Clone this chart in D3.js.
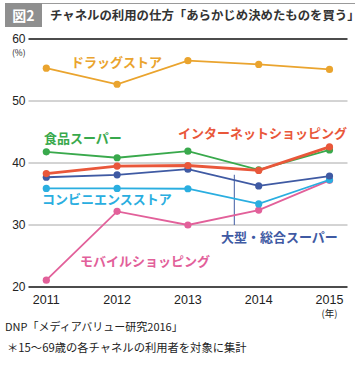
<!DOCTYPE html>
<html><head><meta charset="utf-8">
<script src="https://cdn.jsdelivr.net/npm/d3@7"></script>
<style>
body{margin:0;background:#fff;}
svg{display:block;font-family:"Noto Sans CJK JP","Noto Sans",sans-serif;}
</style></head>
<body><svg id="c" width="361" height="366"></svg>
<script>
const years = ["2011","2012","2013","2014","2015"];
const yTicks = [20,30,40,50,60];
const seriesNames = ["モバイルショッピング","コンビニエンスストア","大型・総合スーパー","食品スーパー","インターネットショッピング","ドラッグストア"];
const mobile = [21.1,32.2,30.0,32.4,37.2];
const conveni = [35.9,35.9,35.85,33.4,37.3];
const largeSuper = [37.7,38.1,39.0,36.3,37.9];
const foodSuper = [41.8,40.85,41.9,38.9,42.1];
const internet = [38.3,39.5,39.6,38.8,42.6];
const drug = [55.3,52.7,56.5,55.9,55.1];
const colors = ["#e2609a","#2aaee0","#3f5aa3","#39a94c","#e9573a","#eaa42e"];

const svg = d3.select("#c");
const x = d3.scalePoint().domain(years).range([46.3,329.5]);
const y = d3.scaleLinear().domain([20,60]).range([287,39]);

// header
svg.append("rect").attr("x",5).attr("y",3).attr("width",37).attr("height",24).attr("fill","#8f8f8f");
svg.append("line").attr("x1",42).attr("x2",355).attr("y1",3.5).attr("y2",3.5).attr("stroke","#9a9a9a").attr("stroke-width",1);
svg.append("text").attr("x",23.5).attr("y",21).attr("text-anchor","middle").attr("fill","#fff")
  .attr("font-size",14).attr("font-weight","bold").text("図2");
svg.append("text").attr("x",50).attr("y",20).attr("fill","#333").attr("font-size",12.4).attr("font-weight","bold")
  .text("チャネルの利用の仕方「あらかじめ決めたものを買う」");

// grid
const xl = 28.5, xr = 347.5;
yTicks.forEach(t=>{
  const dark = (t===20||t===60);
  svg.append("line").attr("x1",xl).attr("x2",xr).attr("y1",y(t)).attr("y2",y(t))
    .attr("stroke",dark?"#111":"#a8a8a8").attr("stroke-width",dark?1.3:1);
  svg.append("text").attr("x",25.5).attr("y",y(t)+3.5).attr("text-anchor","end")
    .attr("font-size",12).attr("fill","#222").attr("font-family","Liberation Sans, Arial, sans-serif").text(t);
});
svg.append("text").attr("x",12).attr("y",56).attr("font-size",8.5).attr("fill","#222").text("(%)");
years.forEach(yr=>{
  svg.append("text").attr("x",x(yr)).attr("y",304).attr("text-anchor","middle")
    .attr("font-size",12.5).attr("fill","#222").attr("font-family","Liberation Sans, Arial, sans-serif").text(yr);
});
svg.append("text").attr("x",x("2015")).attr("y",317).attr("text-anchor","middle").attr("font-size",9.5).attr("fill","#222").text("(年)");

// leader line
svg.append("line").attr("x1",234.3).attr("x2",234.3).attr("y1",y(38.1)).attr("y2",225).attr("stroke",colors[2]).attr("stroke-width",1);

const data = [mobile,conveni,largeSuper,foodSuper,internet,drug];
const line = d3.line().x((d,i)=>x(years[i])).y(d=>y(d));
data.forEach((vals,k)=>{
  const g = svg.append("g");
  g.append("path").attr("d",line(vals)).attr("fill","none").attr("stroke",colors[k]).attr("stroke-width",k===4?2.8:1.8);
  g.selectAll("circle").data(vals).join("circle").attr("cx",(d,i)=>x(years[i])).attr("cy",d=>y(d)).attr("r",3.6).attr("fill",colors[k]);
});

// labels
const labelPos = [[80,266],[42,204],[221,242],[44,143],[178,138],[71,67]];
seriesNames.forEach((n,k)=>{
  svg.append("text").attr("x",labelPos[k][0]).attr("y",labelPos[k][1]).attr("fill",colors[k])
    .attr("font-size",13).attr("font-weight","bold").text(n);
});

// source
svg.append("text").attr("x",5).attr("y",331).attr("font-size",11).attr("fill","#222").text("DNP「メディアバリュー研究2016」");
svg.append("text").attr("x",7).attr("y",352).attr("font-size",11.3).attr("fill","#222").text("＊15～69歳の各チャネルの利用者を対象に集計");
</script></body></html>
